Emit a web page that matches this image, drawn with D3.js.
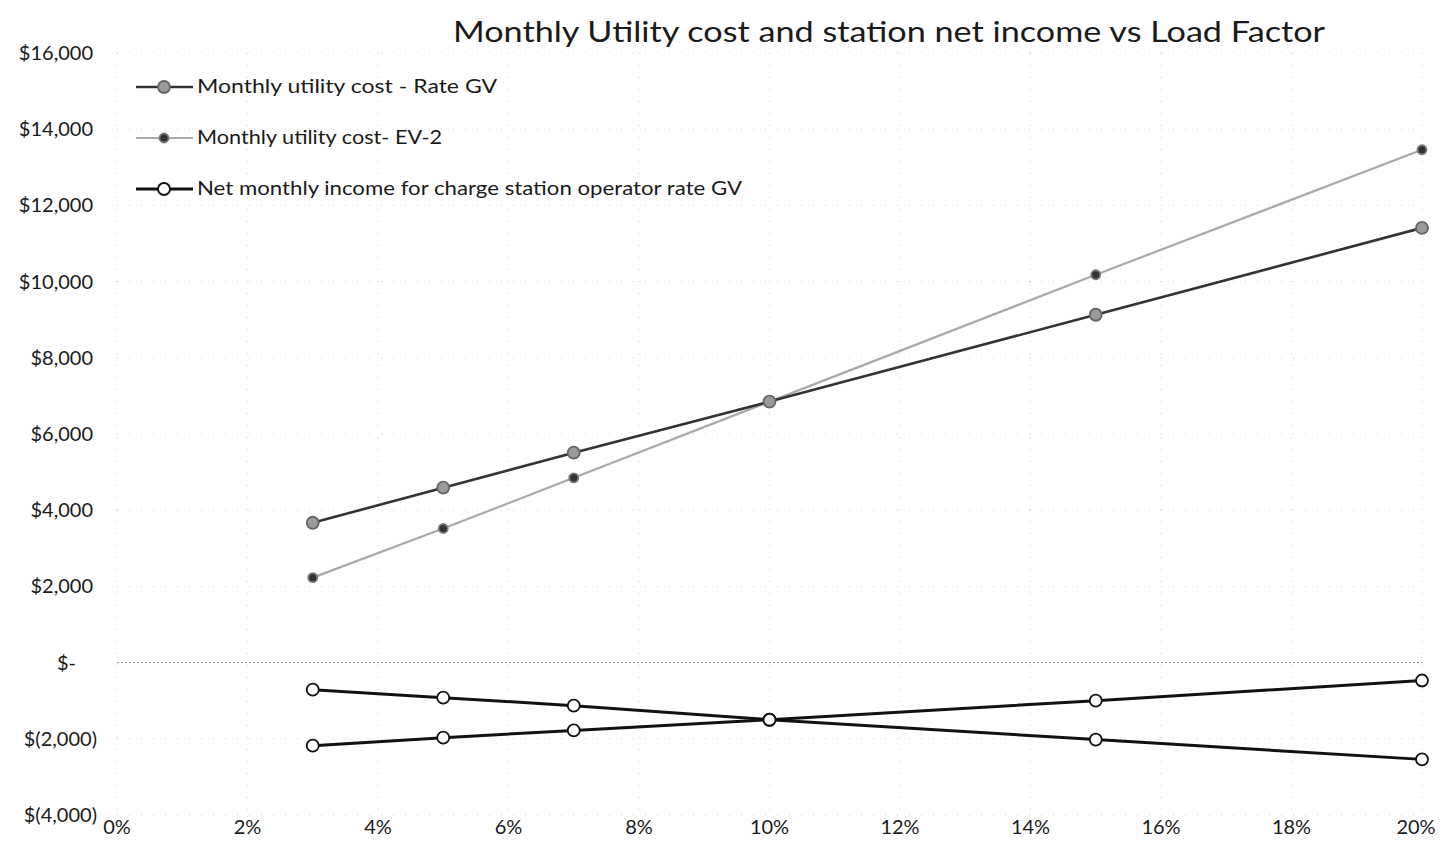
<!DOCTYPE html>
<html>
<head>
<meta charset="utf-8">
<script src="https://cdn.jsdelivr.net/npm/d3@7"></script>
<style>
  html, body { margin: 0; padding: 0; background: #fff; }
  svg { display: block; }
  text { font-family: Lato, "Open Sans", sans-serif; fill: #1a1a1a; }
</style>
</head>
<body>
<svg id="chart" width="1443" height="865"></svg>
<script>
// ---- data ----
const chartTitle = "Monthly Utility cost and station net income vs Load Factor";
const loadFactor = [0.03, 0.05, 0.07, 0.10, 0.15, 0.20];
const costRateGV = [3670, 4590, 5510, 6850, 9130, 11410];
const costEV2 = [2230, 3520, 4850, 6850, 10180, 13460];
const netIncomeGV = [-2180, -1970, -1780, -1500, -1000, -470];
const netIncomeEV2 = [-710, -920, -1130, -1500, -2020, -2540];
const xTicks = [0, 0.02, 0.04, 0.06, 0.08, 0.10, 0.12, 0.14, 0.16, 0.18, 0.20];
const yTicks = [-4000, -2000, 0, 2000, 4000, 6000, 8000, 10000, 12000, 14000, 16000];
const legendLabels = [
  "Monthly utility cost - Rate GV",
  "Monthly utility cost- EV-2",
  "Net monthly income for charge station operator rate GV"
];

(function () {
// ---- layout ----
const svg = d3.select("#chart");
const plotL = 117, plotR = 1422, plotT = 53, plotB = 815;

const x = d3.scaleLinear().domain([0, 0.20]).range([plotL, plotR]);
const y = d3.scaleLinear().domain([-4000, 16000]).range([plotB, plotT]);

// gridlines (faint dotted, scanned look)
const grid = svg.append("g");
grid.selectAll("line.h").data(yTicks).join("line")
  .attr("x1", plotL).attr("x2", plotR)
  .attr("y1", d => y(d)).attr("y2", d => y(d))
  .attr("stroke", d => d === 0 ? "#8a8a8a" : "#cfcfcf")
  .attr("stroke-width", 1)
  .attr("stroke-dasharray", d => d === 0 ? "2,2" : "1,11");
grid.selectAll("line.v").data(xTicks).join("line")
  .attr("x1", d => x(d)).attr("x2", d => x(d))
  .attr("y1", plotT).attr("y2", plotB)
  .attr("stroke", "#cfcfcf").attr("stroke-width", 1)
  .attr("stroke-dasharray", "1,11");

// title
svg.append("text")
  .attr("x", 889).attr("y", 42)
  .attr("text-anchor", "middle")
  .attr("font-size", 28)
  .attr("textLength", 872).attr("lengthAdjust", "spacingAndGlyphs")
  .text(chartTitle);

// y axis labels (accounting format)
const fmtNum = d3.format(",");
svg.append("g").selectAll("text").data(yTicks).join("text")
  .attr("x", d => d === 0 ? 76 : (d < 0 ? 97 : 93))
  .attr("y", d => y(d) + 7)
  .attr("text-anchor", "end")
  .attr("font-size", 20)
  .text(d => d === 0 ? "$-" : (d < 0 ? "$(" + fmtNum(-d) + ")" : "$" + fmtNum(d)));

// x axis labels
svg.append("g").selectAll("text").data(xTicks).join("text")
  .attr("x", d => d === 0.20 ? x(d) - 6 : x(d))
  .attr("y", 834)
  .attr("text-anchor", "middle")
  .attr("font-size", 20)
  .text(d => d3.format(".0%")(d));

// series
const line = d3.line().x(d => x(d[0])).y(d => y(d[1]));
const zip = vals => loadFactor.map((lf, i) => [lf, vals[i]]);

const series = [
  { vals: costEV2, stroke: "#a9a9a9", width: 2.2, r: 4.5, fill: "#333", mstroke: "#777" },
  { vals: costRateGV, stroke: "#333", width: 2.6, r: 6, fill: "#9a9a9a", mstroke: "#666" },
  { vals: netIncomeEV2, stroke: "#111", width: 3, r: 6, fill: "#fff", mstroke: "#111" },
  { vals: netIncomeGV, stroke: "#111", width: 3, r: 6, fill: "#fff", mstroke: "#111" }
];

series.forEach(s => {
  const data = zip(s.vals);
  svg.append("path").datum(data)
    .attr("d", line).attr("fill", "none")
    .attr("stroke", s.stroke).attr("stroke-width", s.width);
  svg.append("g").selectAll("circle").data(data).join("circle")
    .attr("cx", d => x(d[0])).attr("cy", d => y(d[1]))
    .attr("r", s.r).attr("fill", s.fill)
    .attr("stroke", s.mstroke).attr("stroke-width", 1.8);
});

// legend
const legendStyles = [series[1], series[0], series[2]];
const legendWidths = [300, 245, 545];
const lg = svg.append("g");
legendLabels.forEach((lab, i) => {
  const ly = 87 + i * 51;
  const st = legendStyles[i];
  lg.append("line").attr("x1", 136).attr("x2", 193).attr("y1", ly).attr("y2", ly)
    .attr("stroke", st.stroke).attr("stroke-width", st.width);
  lg.append("circle").attr("cx", 164).attr("cy", ly).attr("r", st.r)
    .attr("fill", st.fill).attr("stroke", st.mstroke).attr("stroke-width", 1.8);
  lg.append("text").attr("x", 197).attr("y", ly + 6)
    .attr("font-size", 19)
    .attr("textLength", legendWidths[i]).attr("lengthAdjust", "spacingAndGlyphs")
    .text(lab);
});
})();
</script>
</body>
</html>
